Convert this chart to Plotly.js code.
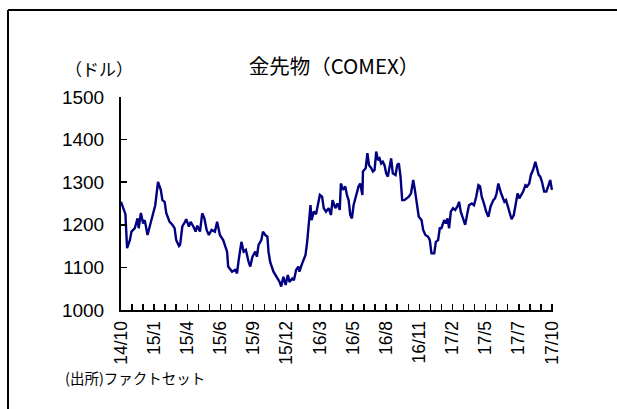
<!DOCTYPE html>
<html>
<head>
<meta charset="utf-8">
<script src="https://cdn.plot.ly/plotly-3.0.1.min.js"></script>
<style>
  html, body { margin: 0; padding: 0; background: #ffffff; overflow: hidden; }
  #chart { width: 617px; height: 409px; overflow: hidden; }
</style>
</head>
<body>
<div id="chart"></div>
<script>
// Trading-day index since start of series (14/10) and COMEX gold futures price (USD)
const tradingDay = [0,5,8,11,16,19,25,30,32,36,40,43,48,52,58,62,67,72,75,79,82,88,93,97,100,105,107,111,116,118,123,126,131,135,138,143,147,151,155,159,164,170,174,179,185,189,192,194,196,201,207,210,213,218,222,226,231,234,238,243,246,249,254,257,261,265,267,270,276,282,287,290,294,298,302,305,310,313,317,321,323,327,331,334,337,340,343,345,349,353,357,360,364,367,371,376,380,383,388,392,396,398,402,406,409,412,415,418,421,426,430,433,437,438,443,446,449,453,456,459,462,465,468,471,474,477,480,483,486,489,492,497,500,503,506,509,513,517,521,525,529,532,535,539,544,547,551,556,559,562,567,570,574,577,580,585,588,591,594,597,601,605,609,612,615,619,623,627,630,635,639,643,647,650,653,657,661,665,669,674,677,680,683,688,691,694,697,700,703,707,711,715,718,721,724,728,732,735,739,742,746,750,753,756,759,762,766,770,774,777,780];
const price = [1254,1235,1225,1145,1164,1184,1192,1215,1192,1228,1203,1211,1176,1196,1227,1246,1301,1282,1258,1254,1227,1207,1200,1192,1164,1150,1153,1196,1207,1213,1196,1207,1196,1184,1198,1184,1227,1215,1188,1176,1188,1184,1207,1176,1164,1145,1137,1102,1098,1090,1094,1086,1117,1160,1137,1141,1113,1102,1125,1137,1125,1153,1164,1184,1176,1172,1137,1113,1090,1078,1066,1055,1078,1059,1082,1066,1074,1070,1094,1102,1090,1106,1121,1129,1160,1207,1246,1211,1231,1225,1254,1270,1266,1239,1231,1239,1223,1258,1239,1250,1235,1297,1282,1290,1270,1258,1223,1215,1246,1270,1290,1297,1270,1325,1333,1368,1340,1333,1325,1329,1372,1352,1356,1344,1348,1340,1321,1313,1333,1356,1321,1317,1340,1344,1313,1258,1258,1262,1266,1274,1305,1282,1250,1219,1211,1188,1176,1172,1164,1133,1133,1160,1164,1192,1192,1211,1203,1215,1192,1231,1239,1235,1243,1254,1231,1215,1200,1227,1246,1250,1246,1266,1293,1290,1266,1250,1231,1219,1243,1258,1262,1274,1297,1274,1262,1254,1258,1243,1227,1213,1223,1250,1274,1262,1270,1278,1293,1290,1297,1317,1329,1348,1333,1317,1313,1301,1278,1278,1293,1305,1282];

// Axis labels (every 60 trading days), minor ticks every 20 trading days
const tickLabels = ["14/10","15/1","15/4","15/6","15/9","15/12","16/3","16/5","16/8","16/11","17/2","17/5","17/7","17/10"];
const labelStep = 60;
const minorStep = 20;

const tickVals = [];
const tickText = [];
for (let d = 0; d <= labelStep * (tickLabels.length - 1); d += minorStep) {
  tickVals.push(d);
  tickText.push(d % labelStep === 0 ? tickLabels[d / labelStep] : "");
}

const trace = {
  x: tradingDay,
  y: price,
  type: "scatter",
  mode: "lines",
  line: { color: "#000080", width: 2.4 },
  hoverinfo: "skip"
};

const cjk = "Noto Sans CJK JP";
const latin = "Liberation Sans";

const layout = {
  width: 617,
  height: 409,
  margin: { l: 121, r: 64, t: 97, b: 99 },
  paper_bgcolor: "#ffffff",
  plot_bgcolor: "#ffffff",
  showlegend: false,
  title: {
    text: "金先物（COMEX）",
    font: { family: cjk, size: 20.5, color: "#000000" },
    x: 334 / 617, xref: "container", xanchor: "center",
    y: 1 - 67 / 409, yref: "container", yanchor: "middle"
  },
  xaxis: {
    range: [0, 782],
    tickmode: "array",
    tickvals: tickVals,
    ticktext: tickText,
    tickangle: -90,
    ticks: "inside",
    ticklen: 6,
    tickwidth: 1.5,
    tickcolor: "#000000",
    tickfont: { family: latin, size: 17.5, color: "#000000" },
    ticklabelstandoff: 2,
    showline: true,
    linecolor: "#000000",
    linewidth: 2,
    showgrid: false,
    zeroline: false,
    fixedrange: true
  },
  yaxis: {
    range: [1000, 1500],
    tickmode: "linear",
    tick0: 1000,
    dtick: 100,
    ticks: "inside",
    ticklen: 6,
    tickwidth: 1.5,
    tickcolor: "#000000",
    tickfont: { family: latin, size: 19, color: "#000000" },
    ticklabelstandoff: 11,
    showline: true,
    linecolor: "#000000",
    linewidth: 2,
    showgrid: false,
    zeroline: false,
    fixedrange: true
  },
  annotations: [
    {
      text: "（ドル）",
      xref: "paper", yref: "paper",
      x: (99 - 121) / 432, y: (310 - 68) / 213,
      xanchor: "center", yanchor: "middle",
      showarrow: false,
      font: { family: cjk, size: 17, color: "#000000" }
    },
    {
      text: "(出所)ファクトセット",
      xref: "paper", yref: "paper",
      x: (63 - 121) / 432, y: (310 - 377) / 213,
      xanchor: "left", yanchor: "middle",
      showarrow: false,
      font: { family: cjk, size: 14.5, color: "#000000" }
    }
  ],
  shapes: [
    {
      type: "line",
      xref: "paper", yref: "paper",
      x0: (8 - 121) / 432, x1: (617 - 121) / 432,
      y0: (310 - 10) / 213, y1: (310 - 10) / 213,
      line: { color: "#000000", width: 2 }
    },
    {
      type: "line",
      xref: "paper", yref: "paper",
      x0: (8 - 121) / 432, x1: (8 - 121) / 432,
      y0: (310 - 10) / 213, y1: (310 - 409) / 213,
      line: { color: "#000000", width: 2 }
    }
  ]
};

Plotly.newPlot("chart", [trace], layout, { displayModeBar: false, staticPlot: true });
</script>
</body>
</html>
